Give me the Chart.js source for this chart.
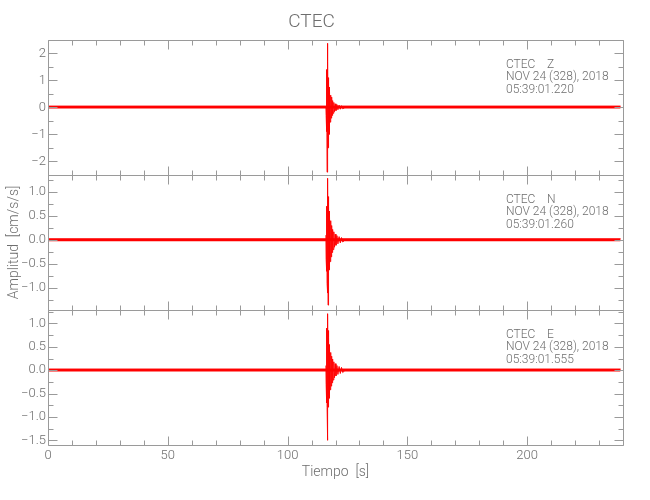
<!DOCTYPE html>
<html>
<head>
<meta charset="utf-8">
<title>CTEC</title>
<script src="https://cdn.jsdelivr.net/npm/chart.js@4.4.1/dist/chart.umd.min.js"></script>
<style>
  body { margin: 0; background: #fff; }
  #wrap { width: 650px; height: 500px; }
</style>
</head>
<body>
<div id="wrap"><canvas id="traces" width="650" height="500"></canvas></div>
<script>
// station / header text
const station = "CTEC";
const components = ["Z", "N", "E"];
const dateLabel = "NOV 24 (328), 2018";
const startTimes = ["05:39:01.220", "05:39:01.260", "05:39:01.555"];

// axes
const xMin = 0, xMax = 240, xMinorStep = 10;
const xTicks = [0, 50, 100, 150, 200];
const yMin = [-2.5, -1.45, -1.6];
const yMax = [2.5, 1.35, 1.29];
const yTicks = [
  [-2, -1, 0, 1, 2],
  [-1, -0.5, 0, 0.5, 1],
  [-1.5, -1, -0.5, 0, 0.5, 1],
];
const yMinorStep = [0.5, 0.25, 0.25];

// quiet part of each record: start/end time and half-width of the noise band
const traceStart = 0, traceEnd = 239;
const noiseLevel = [0.045, 0.025, 0.025];

// the event, times in s and accelerations in cm/s/s
const burstTime = [116.0, 116.1, 116.2, 116.3, 116.4, 116.5, 116.6, 116.7, 116.8, 116.9,
  117.0, 117.1, 117.2, 117.3, 117.4, 117.5, 117.6, 117.8, 118.0, 118.2,
  118.4, 118.6, 118.8, 119.0, 119.3, 119.6, 119.9, 120.2, 120.6, 121.0,
  121.5, 122.0, 122.5, 123.0, 124.0];
const burstZ = [0.05, -0.3, 0.5, -0.9, 1.4, -2.4, 2.37, -1.9, 1.7, -1.5,
  1.1, -1.2, 0.9, -1.0, 0.75, -0.7, 0.6, -0.55, 0.45, -0.4,
  0.38, -0.3, 0.25, -0.22, 0.18, -0.16, 0.13, -0.12, 0.1, -0.09,
  0.08, -0.07, 0.06, -0.05, 0];
const burstN = [0.1, -0.4, 0.6, -0.65, 0.7, -0.9, 1.0, -1.1, 1.28, -1.35,
  0.9, -0.8, 0.7, -0.62, 0.6, -0.55, 0.5, -0.45, 0.4, -0.35,
  0.3, -0.26, 0.22, -0.2, 0.17, -0.15, 0.12, -0.11, 0.09, -0.08,
  0.07, -0.06, 0.05, -0.04, 0];
const burstE = [0.1, -0.3, 0.6, -0.7, 0.9, -0.8, 0.95, -1.5, 1.21, -0.79,
  0.85, -0.75, 0.7, -0.6, 0.55, -0.5, 0.48, -0.42, 0.38, -0.34,
  0.3, -0.27, 0.24, -0.21, 0.18, -0.16, 0.14, -0.12, 0.1, -0.09,
  0.08, -0.07, 0.06, -0.05, 0];
const bursts = [burstZ, burstN, burstE];

const FONT = "Roboto, 'Liberation Sans', sans-serif";
const TEXT = "#6e6e6e";
const FRAME = "#9a9a9a";
const RED = "#ff0000";
const axisIds = ["y1", "y2", "y3"];

const fmt = (dec) => (v) => {
  const s = Math.abs(v).toFixed(dec);
  return v < -1e-9 ? "\u2212" + s : s;
};

const datasets = [];
axisIds.forEach((id, i) => {
  const a = noiseLevel[i];
  datasets.push({
    yAxisID: id,
    data: [{ x: traceStart, y: a }, { x: traceEnd, y: a }],
    borderColor: RED,
    borderWidth: 1,
    backgroundColor: RED,
    fill: { value: -a },
    pointRadius: 0,
  });
  datasets.push({
    yAxisID: id,
    data: burstTime.map((t, k) => ({ x: t, y: bursts[i][k] })),
    borderColor: RED,
    borderWidth: 1,
    fill: false,
    pointRadius: 0,
    tension: 0,
  });
});

const scales = {
  x: {
    type: "linear",
    position: "bottom",
    min: xMin,
    max: xMax,
    grid: { display: false, drawTicks: false },
    border: { display: false },
    afterBuildTicks: (s) => { s.ticks = xTicks.map((v) => ({ value: v })); },
    ticks: {
      autoSkip: false,
      maxRotation: 0,
      padding: 3,
      color: TEXT,
      font: { family: FONT, size: 13, weight: 300 },
    },
    title: {
      display: true,
      text: "Tiempo  [s]",
      color: TEXT,
      font: { family: FONT, size: 14, weight: 300 },
      padding: { top: 19, bottom: 19 },
    },
    afterFit: (s) => { s.height = 55; },
  },
};
axisIds.forEach((id, i) => {
  scales[id] = {
    type: "linear",
    position: "left",
    stack: "panels",
    stackWeight: 1,
    weight: 3 - i,
    min: yMin[i],
    max: yMax[i],
    grid: { display: false, drawTicks: false },
    border: { display: false },
    afterBuildTicks: (s) => { s.ticks = yTicks[i].map((v) => ({ value: v })); },
    ticks: {
      autoSkip: false,
      padding: 2,
      color: TEXT,
      font: { family: FONT, size: 13, weight: 300 },
      callback: fmt(i === 0 ? 0 : 1),
    },
    title: {
      display: i === 1,
      text: "Amplitud  [cm/s/s]",
      color: TEXT,
      font: { family: FONT, size: 14, weight: 300 },
      padding: { top: 6, bottom: 6 },
    },
    afterFit: (s) => { s.width = 48; },
  };
});

// panel frames with inward ticks, plus the header text of each component
const framePlugin = {
  id: "frame",
  afterDatasetsDraw(chart) {
    const { ctx, chartArea, scales } = chart;
    const xs = scales.x;
    const left = chartArea.left, right = chartArea.right;
    ctx.save();
    ctx.strokeStyle = FRAME;
    ctx.lineWidth = 1;
    axisIds.forEach((id, i) => {
      const ys = scales[id];
      const top = Math.round(ys.top) + 0.5, bottom = Math.round(ys.bottom) + 0.5;
      const l = Math.round(left) + 0.5, r = Math.round(right) + 0.5;
      ctx.beginPath();
      ctx.rect(l, top, r - l, bottom - top);
      for (let v = xMin; v <= xMax + 1e-9; v += xMinorStep) {
        const px = Math.round(xs.getPixelForValue(v)) + 0.5;
        const len = xTicks.includes(v) ? 9 : 5;
        ctx.moveTo(px, bottom); ctx.lineTo(px, bottom - len);
        ctx.moveTo(px, top); ctx.lineTo(px, top + len);
      }
      const m = yMinorStep[i];
      for (let v = Math.ceil(yMin[i] / m) * m; v <= yMax[i] + 1e-9; v += m) {
        const py = Math.round(ys.getPixelForValue(v)) + 0.5;
        const major = yTicks[i].some((t) => Math.abs(t - v) < 1e-6);
        const len = major ? 9 : 5;
        ctx.moveTo(l, py); ctx.lineTo(l + len, py);
        ctx.moveTo(r, py); ctx.lineTo(r - len, py);
      }
      ctx.stroke();

      ctx.fillStyle = TEXT;
      ctx.font = "300 12px " + FONT;
      ctx.textAlign = "left";
      ctx.textBaseline = "alphabetic";
      const tx = right - 117;
      ctx.fillText(station + "    " + components[i], tx, ys.top + 28);
      ctx.fillText(dateLabel, tx, ys.top + 40.5);
      ctx.fillText(startTimes[i], tx, ys.top + 53);
    });
    ctx.restore();
  },
};

new Chart(document.getElementById("traces"), {
  type: "line",
  data: { datasets },
  options: {
    responsive: false,
    animation: false,
    layout: { padding: { left: 0, right: 27, top: 0, bottom: 0 } },
    plugins: {
      legend: { display: false },
      tooltip: { enabled: false },
      title: {
        display: true,
        text: station,
        color: TEXT,
        font: { family: FONT, size: 19, weight: 300 },
        padding: { top: 11, bottom: 6 },
      },
    },
    scales,
  },
  plugins: [framePlugin],
});
</script>
</body>
</html>
